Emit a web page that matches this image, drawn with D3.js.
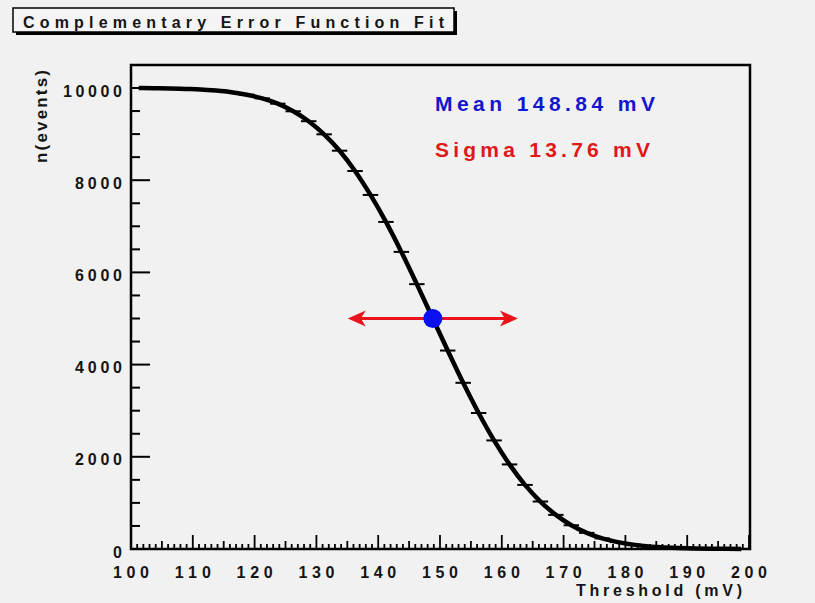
<!DOCTYPE html>
<html>
<head>
<meta charset="utf-8">
<script src="https://cdn.jsdelivr.net/npm/d3@7"></script>
<style>
  html, body { margin: 0; padding: 0; background: #f1f1f1; }
  svg { display: block; }
  text { font-family: "Liberation Sans", Arial, Helvetica, sans-serif; font-weight: bold; }
</style>
</head>
<body>
<svg id="chart" width="815" height="603"></svg>
<script>
// ---- data ----
const titleText = "Complementary Error Function Fit";
const xTitle = "Threshold (mV)";
const yTitle = "n(events)";
const xTickLabels = [100, 110, 120, 130, 140, 150, 160, 170, 180, 190, 200];
const yTickLabels = [0, 2000, 4000, 6000, 8000, 10000];
const binWidth = 2.5;
const thresholds = [101.25, 103.75, 106.25, 108.75, 111.25, 113.75, 116.25, 118.75, 121.25, 123.75,
                    126.25, 128.75, 131.25, 133.75, 136.25, 138.75, 141.25, 143.75, 146.25, 148.75,
                    151.25, 153.75, 156.25, 158.75, 161.25, 163.75, 166.25, 168.75, 171.25, 173.75,
                    176.25, 178.75, 181.25, 183.75, 186.25, 188.75, 191.25, 193.75, 196.25, 198.75];
const events = [10000, 9995, 9990, 9980, 9970, 9945, 9910, 9855, 9775, 9660,
                9495, 9280, 8995, 8640, 8200, 7680, 7095, 6445, 5745, 5025,
                4305, 3605, 2950, 2355, 1835, 1390, 1030, 740, 515, 350,
                230, 150, 95, 55, 35, 20, 10, 5, 3, 1];
const meanValue = 148.84;
const sigmaValue = 13.76;
const halfLevel = 5000;
const meanLabel = "Mean 148.84 mV";
const sigmaLabel = "Sigma 13.76 mV";

// ---- layout ----
const svg = d3.select("#chart");
const frame = { left: 131, right: 750, top: 65, bottom: 549 };
const x = d3.scaleLinear().domain([100, 200]).range([131, 749]);
const y = d3.scaleLinear().domain([0, 10000]).range([549, 88]);
const ink = "#151515";

// title box with shadow
svg.append("rect").attr("x", 16).attr("y", 11).attr("width", 441).attr("height", 24).attr("fill", "#000");
svg.append("rect").attr("x", 13).attr("y", 8).attr("width", 441).attr("height", 24)
  .attr("fill", "#f4f4f4").attr("stroke", "#000").attr("stroke-width", 1.5);
svg.append("text").attr("x", 23).attr("y", 27.5).attr("font-size", 16)
  .attr("textLength", 421).attr("lengthAdjust", "spacing").attr("fill", ink)
  .text(titleText);

// plot frame
svg.append("rect").attr("x", frame.left).attr("y", frame.top)
  .attr("width", frame.right - frame.left).attr("height", frame.bottom - frame.top)
  .attr("fill", "none").attr("stroke", "#000").attr("stroke-width", 2.5);

// y axis ticks (inward)
const yMinor = d3.range(0, 10001, 500);
svg.append("g").selectAll("line").data(yMinor).join("line")
  .attr("x1", frame.left).attr("x2", d => frame.left + (d % 2000 === 0 ? 19 : 9))
  .attr("y1", d => y(d)).attr("y2", d => y(d))
  .attr("stroke", "#000").attr("stroke-width", 2);

svg.append("g").selectAll("text").data(yTickLabels).join("text")
  .attr("x", 122).attr("y", d => y(d) + 3)
  .attr("text-anchor", "end").attr("dominant-baseline", "central")
  .attr("font-size", 16).attr("fill", ink)
  .attr("textLength", d => String(d).length * 12 - 1).attr("lengthAdjust", "spacing")
  .text(d => d);

// x axis ticks (inward)
const xMinor = d3.range(100, 200.01, 1);
svg.append("g").selectAll("line").data(xMinor).join("line")
  .attr("x1", d => x(d)).attr("x2", d => x(d))
  .attr("y1", frame.bottom)
  .attr("y2", d => frame.bottom - (d % 10 === 0 ? 14 : (d % 5 === 0 ? 8 : 5)))
  .attr("stroke", "#000").attr("stroke-width", 1.8);

svg.append("g").selectAll("text").data(xTickLabels).join("text")
  .attr("x", d => x(d)).attr("y", 572)
  .attr("text-anchor", "middle").attr("dominant-baseline", "central")
  .attr("font-size", 16).attr("fill", ink)
  .attr("textLength", 36).attr("lengthAdjust", "spacing")
  .text(d => d);

// axis titles
svg.append("text").attr("x", 742).attr("y", 596).attr("text-anchor", "end")
  .attr("font-size", 16).attr("fill", ink)
  .attr("textLength", 166).attr("lengthAdjust", "spacing").text(xTitle);

svg.append("text").attr("transform", "translate(47,70) rotate(-90)")
  .attr("text-anchor", "end").attr("font-size", 17).attr("fill", ink)
  .attr("textLength", 93).attr("lengthAdjust", "spacing").text(yTitle);

// fit curve through bins
const pts = thresholds.map((t, i) => [t, events[i]]);
const line = d3.line().x(d => x(d[0])).y(d => y(d[1])).curve(d3.curveMonotoneX);
svg.append("path").datum(pts).attr("d", line)
  .attr("fill", "none").attr("stroke", "#000").attr("stroke-width", 4.5).attr("stroke-linejoin", "round");

// data points: bin-width horizontal bars
svg.append("g").selectAll("line").data(pts).join("line")
  .attr("x1", d => x(d[0] - binWidth / 2)).attr("x2", d => x(d[0] + binWidth / 2))
  .attr("y1", d => y(d[1])).attr("y2", d => y(d[1]))
  .attr("stroke", "#000").attr("stroke-width", 2);

// sigma arrow
const arrowY = y(halfLevel);
const xl = x(meanValue - sigmaValue), xr = x(meanValue + sigmaValue);
const red = "#e8141a";
svg.append("line").attr("x1", xl + 10).attr("x2", xr - 10).attr("y1", arrowY).attr("y2", arrowY)
  .attr("stroke", red).attr("stroke-width", 3);
svg.append("path").attr("d", `M${xl},${arrowY} L${xl + 18},${arrowY - 8} L${xl + 13},${arrowY} L${xl + 18},${arrowY + 8} Z`).attr("fill", red);
svg.append("path").attr("d", `M${xr},${arrowY} L${xr - 18},${arrowY - 8} L${xr - 13},${arrowY} L${xr - 18},${arrowY + 8} Z`).attr("fill", red);

// mean dot
svg.append("circle").attr("cx", x(meanValue)).attr("cy", arrowY).attr("r", 9.5).attr("fill", "#0a10f0");

// labels
svg.append("text").attr("x", 435).attr("y", 111).attr("font-size", 21).attr("fill", "#1515d0")
  .attr("textLength", 220).attr("lengthAdjust", "spacing").text(meanLabel);
svg.append("text").attr("x", 435).attr("y", 157).attr("font-size", 21).attr("fill", "#e01818")
  .attr("textLength", 215).attr("lengthAdjust", "spacing").text(sigmaLabel);
</script>
</body>
</html>
